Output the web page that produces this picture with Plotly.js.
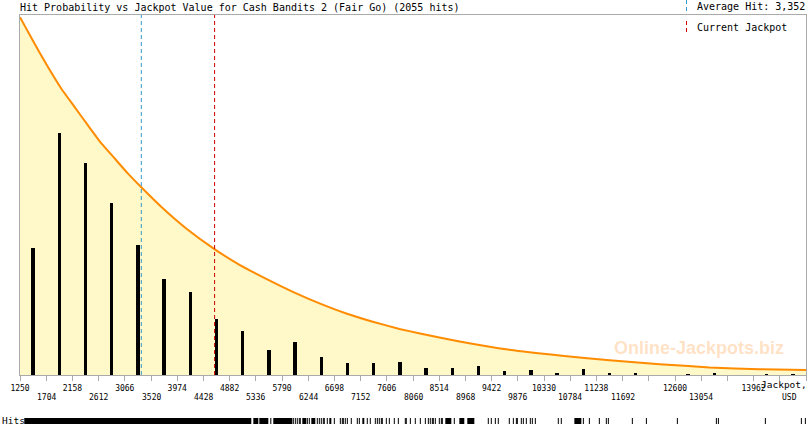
<!DOCTYPE html>
<html>
<head>
<meta charset="utf-8">
<script src="https://cdn.plot.ly/plotly-3.0.1.min.js"></script>
<style>html,body{margin:0;padding:0;background:#fff;}#chart{width:810px;height:425px;}</style>
</head>
<body>
<div id="chart"></div>
<script>
// ---- data ----
const titleText = 'Hit Probability vs Jackpot Value for Cash Bandits 2 (Fair Go) (2055 hits)';
const binEdges = [1250,1704,2158,2612,3066,3520,3974,4428,4882,5336,5790,6244,6698,7152,7606,8060,8514,8968,9422,9876,10330,10784,11238,11692,12146,12600,13054,13508,13962,14416,14870];
const binHits = [197,375,329,267,202,149,129,87,68,39,51,28,19,19,20,11,11,14,6,8,3,9,3,3,0,2,3,0,2,2];
const upperTickLabels = ['1250','2158','3066','3974','4882','5790','6698','7606','8514','9422','10330','11238','12600','13962'];
const lowerTickLabels = ['1704','2612','3520','4428','5336','6244','7152','8060','8968','9876','10784','11692','13054'];
const curveX = [1250,1501,1732,1964,2194,2425,2657,2888,3118,3361,3725,4130,4626,5054,5517,5978,6440,6903,7364,7826,8161,8867,9733,10600,11466,12333,13199,14066,14870];
const curveY = [0.994,0.921,0.856,0.796,0.745,0.694,0.644,0.602,0.560,0.520,0.463,0.407,0.349,0.306,0.267,0.231,0.199,0.171,0.148,0.128,0.116,0.093,0.070,0.054,0.041,0.030,0.021,0.016,0.014];
const averageHit = 3352;
const currentJackpot = 4622;
const rugSpans = [[1324,5258],[5293,5380],[5397,5553],[5587,5605],[5639,5969],[6142,6211],[6298,6367],[6610,6645],[7182,7216],[8620,8724],[8863,8949],[9001,9123],[10856,10977]];
const rugHits = [5986,6021,6055,6090,6107,6229,6263,6402,6437,6471,6506,6523,6575,6697,6801,6835,6853,6887,6922,6991,7095,7130,7268,7320,7407,7442,7476,7511,7528,7598,7650,7736,7806,7927,7944,8014,8100,8187,8274,8326,8360,8395,8412,8447,8516,8551,8568,8776,9365,9417,9487,9538,9729,9799,9851,9868,9937,9972,10024,10093,10128,10180,10578,10630,11012,11116,11289,11410,11445,11861,12104,12641,13317,13352,14166,14790,14859];

// ---- derived ----
const binCenters = binHits.map((_, i) => (binEdges[i] + binEdges[i + 1]) / 2);
const xMin = binEdges[0], xMax = binEdges[binEdges.length - 1];
const tickText = binEdges.map(v => upperTickLabels.includes(String(v)) ? String(v) : '');
const rugX = [], rugY = [];
rugSpans.forEach(s => { rugX.push(s[0], s[1], null); rugY.push(0.5, 0.5, null); });

const mono = 'DejaVu Sans Mono';
const W = 810, H = 425, ML = 20, MR = 4, MT = 15, MB = 0;
const plotW = W - ML - MR, plotH = H - MT - MB;
const px = x => (x - ML) / plotW;        // paper x from pixel
const py = y => (H - MB - y) / plotH;    // paper y from pixel

const traces = [
  {x: curveX, y: curveY, type: 'scatter', mode: 'lines', line: {color: '#ff8c00', width: 2, shape: 'spline', smoothing: 0.4},
   fill: 'tozeroy', fillcolor: '#fff8c8', xaxis: 'x', yaxis: 'y', hoverinfo: 'skip'},
  {x: binCenters, y: binHits, type: 'bar', width: 56, marker: {color: '#000', line: {width: 0}}, xaxis: 'x', yaxis: 'y2', hoverinfo: 'skip'},
  {x: rugX, y: rugY, type: 'scatter', mode: 'lines', line: {color: '#000', width: 6}, xaxis: 'x', yaxis: 'y3', hoverinfo: 'skip'},
  {x: rugHits, y: rugHits.map(() => 0.5), type: 'scatter', mode: 'markers', marker: {symbol: 'line-ns', size: 6, line: {color: '#000', width: 1}}, xaxis: 'x', yaxis: 'y3', hoverinfo: 'skip'}
];

const annotations = [];
lowerTickLabels.forEach(t => annotations.push({x: Number(t), xref: 'x', y: py(397), yref: 'paper', text: t, showarrow: false,
  font: {family: mono, size: 8, color: '#000'}, xanchor: 'center', yanchor: 'middle'}));
annotations.push(
  {x: px(695), y: py(7), xref: 'paper', yref: 'paper', text: 'Average Hit: ' + averageHit.toLocaleString('en-US'), showarrow: false, xanchor: 'left', yanchor: 'middle', font: {family: mono, size: 10, color: '#000'}},
  {x: px(695), y: py(27), xref: 'paper', yref: 'paper', text: 'Current Jackpot', showarrow: false, xanchor: 'left', yanchor: 'middle', font: {family: mono, size: 10, color: '#000'}},
  {x: px(809), y: py(384), xref: 'paper', yref: 'paper', text: 'Jackpot,', showarrow: false, xanchor: 'right', yanchor: 'middle', font: {family: mono, size: 9.5, color: '#000'}},
  {x: px(799), y: py(397), xref: 'paper', yref: 'paper', text: 'USD', showarrow: false, xanchor: 'right', yanchor: 'middle', font: {family: mono, size: 8, color: '#000'}},
  {x: px(0), y: py(420), xref: 'paper', yref: 'paper', text: 'Hits', showarrow: false, xanchor: 'left', yanchor: 'middle', font: {family: mono, size: 9.5, color: '#000'}},
  {x: px(699), y: py(348), xref: 'paper', yref: 'paper', text: '<b>Online-Jackpots.biz</b>', showarrow: false, xanchor: 'center', yanchor: 'middle', font: {family: 'Liberation Sans', size: 18, color: 'rgba(255,170,90,0.35)'}}
);

const shapes = [
  {type: 'line', xref: 'x', yref: 'y domain', x0: averageHit, x1: averageHit, y0: 0, y1: 1, line: {color: '#3399cc', width: 1, dash: '4px,3px'}, layer: 'above'},
  {type: 'line', xref: 'x', yref: 'y domain', x0: currentJackpot, x1: currentJackpot, y0: 0, y1: 1, line: {color: '#cc0000', width: 1, dash: '4px,3px'}, layer: 'above'},
  {type: 'line', xref: 'paper', yref: 'paper', x0: px(686.5), x1: px(686.5), y0: py(0), y1: py(11), line: {color: '#3399cc', width: 1, dash: '4px,3px'}},
  {type: 'line', xref: 'paper', yref: 'paper', x0: px(686.5), x1: px(686.5), y0: py(21), y1: py(33), line: {color: '#cc0000', width: 1, dash: '4px,3px'}}
];

const mainDomain = [py(375), 1];
const layout = {
  width: W, height: H,
  margin: {l: ML, r: MR, t: MT, b: MB, pad: 0},
  paper_bgcolor: '#fff', plot_bgcolor: '#fff',
  showlegend: false,
  title: {text: titleText, x: ML / W, xanchor: 'left', xref: 'container', y: 1 - 7 / H, yanchor: 'middle', yref: 'container',
          font: {family: mono, size: 10, color: '#000'}},
  xaxis: {range: [xMin, xMax], tickmode: 'array', tickvals: binEdges, ticktext: tickText, ticks: 'outside', ticklen: 5, tickcolor: '#aaa',
          tickfont: {family: mono, size: 8, color: '#000'}, showline: true, linecolor: '#aaa', linewidth: 1, mirror: true,
          showgrid: false, zeroline: false, anchor: 'y', fixedrange: true},
  yaxis: {domain: mainDomain, range: [0, 1], showline: true, linecolor: '#aaa', mirror: true, showgrid: false, zeroline: false,
          showticklabels: false, ticks: '', fixedrange: true},
  yaxis2: {overlaying: 'y', range: [0, 558], visible: false, showgrid: false, zeroline: false, fixedrange: true},
  yaxis3: {domain: [py(424), py(418)], range: [0, 1], visible: false, showgrid: false, zeroline: false, anchor: 'x', fixedrange: true},
  bargap: 0,
  annotations: annotations,
  shapes: shapes
};

Plotly.newPlot('chart', traces, layout, {displayModeBar: false, staticPlot: true});
</script>
</body>
</html>
